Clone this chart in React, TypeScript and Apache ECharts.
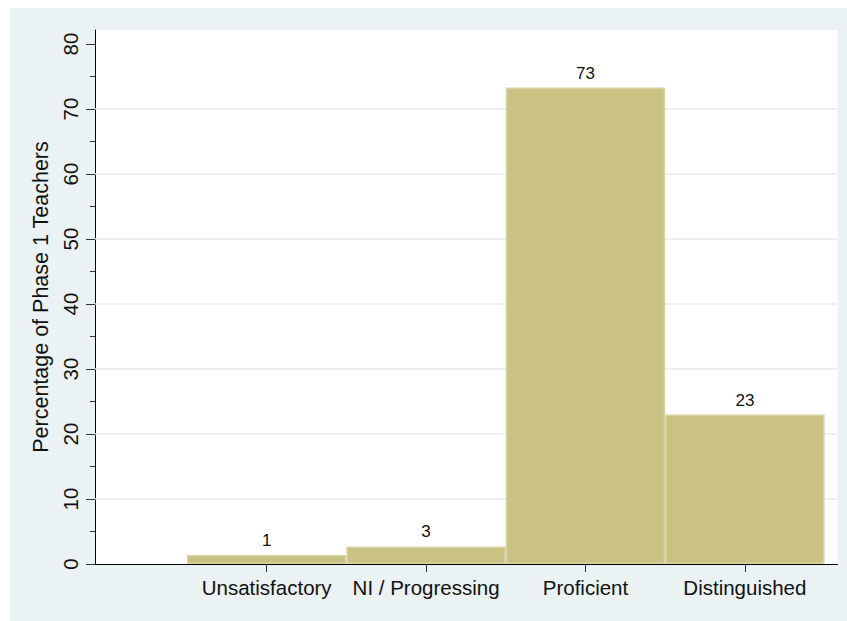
import React, { useEffect, useRef } from "react";
import * as echarts from "echarts";

const categories = ["Unsatisfactory", "NI / Progressing", "Proficient", "Distinguished"];
const positions = [1, 2, 3, 4];
const percentages = [1.4, 2.7, 73.3, 23.0];
const yMajorTicks = [0, 10, 20, 30, 40, 50, 60, 70, 80];
const yMinorTicks = [5, 15, 25, 35, 45, 55, 65, 75];
const gridLineValues = [10, 20, 30, 40, 50, 60, 70];
const yTitle = "Percentage of Phase 1 Teachers";

const FONT = "'Liberation Sans', Arial, Helvetica, sans-serif";
const BAR_FILL = "#CAC283";
const BAR_STROKE = "#D8D2A2";
const BG = "#EAF2F3";

export default function App() {
  const ref = useRef<HTMLDivElement>(null);

  useEffect(() => {
    if (!ref.current) return;
    const chart = echarts.init(ref.current, undefined, { renderer: "svg" });
    const data = positions.map((p, i) => [p, percentages[i]]);
    chart.setOption({
      animation: false,
      backgroundColor: BG,
      textStyle: { fontFamily: FONT },
      grid: {
        left: 85,
        top: 22,
        width: 742.5,
        height: 534,
        show: true,
        backgroundColor: "#ffffff",
        borderWidth: 0,
      },
      xAxis: {
        type: "value",
        min: -0.077,
        max: 4.581,
        splitLine: { show: false },
        axisLine: { show: true, onZero: false, lineStyle: { color: "#000", width: 1 } },
        axisTick: {
          show: true,
          customValues: positions,
          length: 8,
          lineStyle: { color: "#333", width: 1 },
        },
        axisLabel: {
          customValues: positions,
          formatter: (v: number) => categories[Math.round(v) - 1] ?? "",
          fontSize: 20.5,
          color: "#111",
          margin: 13,
          fontFamily: FONT,
        },
      },
      yAxis: [
        {
          type: "value",
          min: 0,
          max: 534 / 6.5,
          splitLine: { show: false },
          axisLine: { show: true, onZero: false, lineStyle: { color: "#000", width: 1 } },
          axisTick: {
            show: true,
            customValues: yMajorTicks,
            length: 9,
            lineStyle: { color: "#333", width: 1 },
          },
          axisLabel: {
            customValues: yMajorTicks,
            rotate: 90,
            fontSize: 20.5,
            color: "#111",
            margin: 14,
            fontFamily: FONT,
          },
          name: yTitle,
          nameLocation: "middle",
          nameRotate: 90,
          nameGap: 32,
          nameTextStyle: { fontSize: 21.5, color: "#111", fontFamily: FONT },
        },
        {
          type: "value",
          position: "left",
          min: 0,
          max: 534 / 6.5,
          splitLine: { show: false },
          axisLine: { show: false, onZero: false },
          axisLabel: { show: false },
          axisTick: {
            show: true,
            customValues: yMinorTicks,
            length: 5,
            lineStyle: { color: "#333", width: 1 },
          },
        },
      ],
      series: [
        {
          type: "line",
          data: [],
          z: 1,
          silent: true,
          markLine: {
            silent: true,
            z: 1,
            symbol: "none",
            label: { show: false },
            lineStyle: { color: "#E4ECEE", width: 1.5, type: "solid" },
            data: gridLineValues.map((v) => ({ yAxis: v })),
          },
        },
        {
          type: "custom",
          z: 10,
          data,
          encode: { x: 0, y: 1 },
          renderItem: (params: any, api: any) => {
            const x = api.value(0);
            const v = api.value(1);
            const p0 = api.coord([x - 0.5, v]);
            const p1 = api.coord([x + 0.5, 0]);
            return {
              type: "group",
              children: [
                {
                  type: "rect",
                  shape: {
                    x: p0[0] + 0.75,
                    y: p0[1] + 0.75,
                    width: p1[0] - p0[0] - 1.5,
                    height: p1[1] - p0[1] - 1.5,
                  },
                  style: { fill: BAR_FILL, stroke: BAR_STROKE, lineWidth: 1.5 },
                },
                {
                  type: "text",
                  x: (p0[0] + p1[0]) / 2,
                  y: p0[1] - 6,
                  style: {
                    text: String(Math.round(v)),
                    textAlign: "center",
                    textVerticalAlign: "bottom",
                    fontSize: 17,
                    fill: "#111",
                    fontFamily: FONT,
                  },
                },
              ],
            };
          },
        },
      ],
    });
    return () => chart.dispose();
  }, []);

  return (
    <div
      ref={ref}
      style={{ position: "absolute", left: 10, top: 8, width: 837, height: 613 }}
    />
  );
}
